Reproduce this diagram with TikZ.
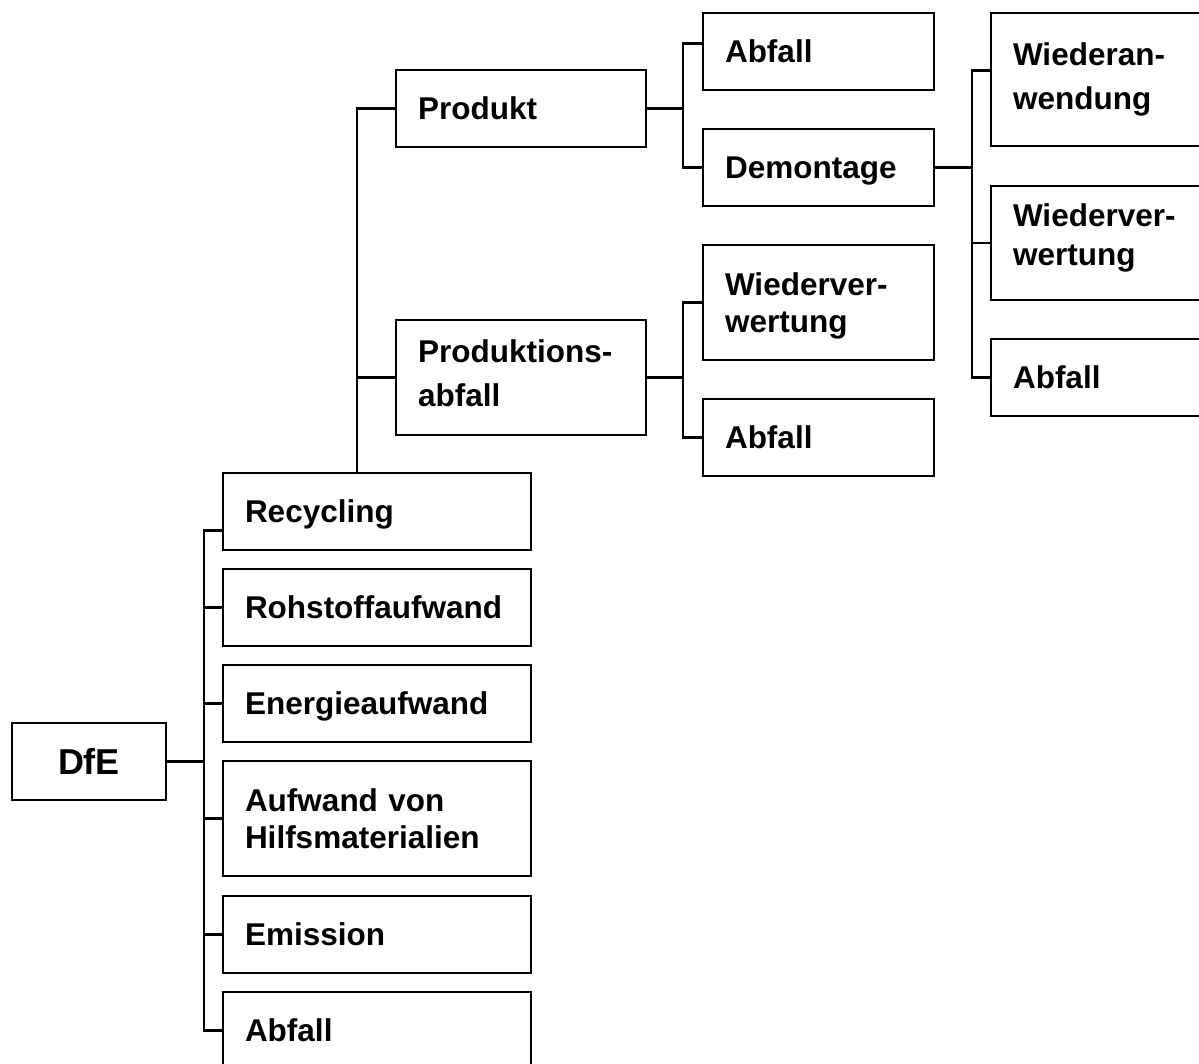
\documentclass[tikz,border=0pt]{standalone}
\usepackage{fontspec}
\setmainfont{Liberation Sans}
\usetikzlibrary{positioning}

\begin{document}
\begin{tikzpicture}[
  x=1pt, y=-1pt,
  node distance=19pt,
  box/.style={draw, line width=2.2pt, outer sep=0pt, inner xsep=22pt, inner ysep=0pt,
    align=left, text depth=0pt, minimum height=77pt,
    font=\bfseries\fontsize{31.5}{40}\selectfont},
  tall/.style={minimum height=115pt},
  lines/.style 2 args={font=\bfseries\fontsize{31.5}{#1}\selectfont, text depth=#2},
  catbox/.style={box, text width=264pt},
  srcbox/.style={box, text width=206pt},
  endbox/.style={box, text width=187pt},
  reusebox/.style={box, text width=216pt},
  tree/.style={line width=2.2pt}
]
  \fill[white] (0,0) rectangle (1199,1064);
  \useasboundingbox (0,0) rectangle (1199,1064);
  \clip (0,0) rectangle (1199,1064);

  % root
  \node[box, align=center, text width=110pt, font=\bfseries\fontsize{36}{40}\selectfont] (dfe) at (89,761.5) {DfE};

  % first level
  \node[catbox, anchor=north west] (rec) at (223,473) {Recycling};
  \node[catbox, below=of rec] (roh) {Rohstoffaufwand};
  \node[catbox, below=of roh] (ene) {Energieaufwand};
  \node[catbox, tall, lines={37pt}{37pt}, below=of ene] (hilf) {Aufwand von\\Hilfsmaterialien};
  \node[catbox, below=20pt of hilf] (emi) {Emission};
  \node[catbox, below=of emi] (abf) {Abfall};

  % recycling branches
  \node[srcbox, anchor=north west] (prod) at (396,70) {Produkt};
  \node[srcbox, tall, lines={44pt}{53pt}, below=173pt of prod] (pabf) {Produktions-\\abfall};

  % third level
  \node[endbox, anchor=north west] (abfa) at (703,13) {Abfall};
  \node[endbox, below=39pt of abfa] (dem) {Demontage};
  \node[endbox, tall, lines={37pt}{37pt}, below=39pt of dem] (wvb) {Wiederver-\\wertung};
  \node[endbox, below=39pt of wvb] (abfb) {Abfall};

  % demontage branches
  \node[reusebox, minimum height=133pt, lines={44pt}{50pt}, anchor=north west] (wan) at (991,13) {Wiederan-\\wendung};
  \node[reusebox, minimum height=114pt, lines={39pt}{55pt}, below=40pt of wan] (wvc) {Wiederver-\\wertung};
  \node[reusebox, below=39pt of wvc] (abfc) {Abfall};

  % bus lines
  \coordinate (busa) at ([xshift=-19pt]rec.west);
  \coordinate (busb) at ([xshift=-39pt]prod.west);
  \coordinate (busc) at ([xshift=-20pt]abfa.west);
  \coordinate (busd) at ([xshift=-19pt]wan.west);
  \coordinate (recstub) at ([yshift=-19pt]rec.west);
  \coordinate (abfastub) at ([yshift=8pt]abfa.west);
  \coordinate (wanstub) at ([yshift=9pt]wan.west);

  % dfe tree
  \draw[tree] (dfe.east) -- (dfe.east -| busa);
  \draw[tree] (recstub) -- (recstub -| busa) -- (busa |- abf.west) -- (abf.west);
  \foreach \n in {roh,ene,hilf,emi}
    \draw[tree] (busa |- \n.west) -- (\n.west);

  % recycling tree
  \draw[tree] (busb |- rec.north) -- (busb |- prod.west) -- (prod.west);
  \draw[tree] (busb |- pabf.west) -- (pabf.west);

  % produkt / produktionsabfall trees
  \draw[tree] (prod.east) -- (prod.east -| busc);
  \draw[tree] (abfastub) -- (abfastub -| busc) -- (busc |- dem.west) -- (dem.west);
  \draw[tree] (pabf.east) -- (pabf.east -| busc);
  \draw[tree] (wvb.west) -- (wvb.west -| busc) -- (busc |- abfb.west) -- (abfb.west);

  % demontage tree
  \draw[tree] (dem.east) -- (dem.east -| busd);
  \draw[tree] (wanstub) -- (wanstub -| busd) -- (busd |- abfc.west) -- (abfc.west);
  \draw[tree] (busd |- wvc.west) -- (wvc.west);
\end{tikzpicture}
\end{document}
